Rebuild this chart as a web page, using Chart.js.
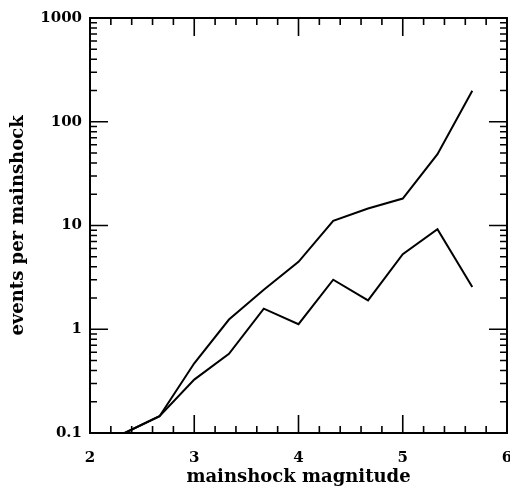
<!DOCTYPE html>
<html>
<head>
<meta charset="utf-8">
<script src="https://cdn.jsdelivr.net/npm/chart.js@4"></script>
<style>
  html, body { margin: 0; padding: 0; background: #fff; }
  #wrap { width: 510px; height: 487px; }
</style>
</head>
<body>
<div id="wrap"><canvas id="chart"></canvas></div>
<script>
// magnitude bins and events per mainshock
const magnitudes = [2.333, 2.667, 3.0, 3.333, 3.667, 4.0, 4.333, 4.667, 5.0, 5.333, 5.667];
const upperEvents = [0.1, 0.145, 0.47, 1.24, 2.4, 4.46, 11.1, 14.6, 18.2, 48.7, 199];
const lowerEvents = [0.1, 0.145, 0.327, 0.58, 1.58, 1.12, 3.0, 1.9, 5.3, 9.2, 2.56];
const xTicks = [2, 3, 4, 5, 6];
const yTicks = [0.1, 1, 10, 100, 1000];

const tickFont = {family: "'DejaVu Serif', serif", weight: 'bold', size: 15};
const titleFont = {family: "'DejaVu Serif', serif", weight: 'bold', size: 18};

// inward ticks on all four sides + frame, like the old plot
const frameTicks = {
  id: 'frameTicks',
  afterDraw(chart) {
    const {ctx, chartArea: a, scales} = chart;
    const xs = scales.x, ys = scales.y;
    ctx.save();
    ctx.strokeStyle = '#000';
    ctx.lineWidth = 2;
    ctx.strokeRect(a.left, a.top, a.right - a.left, a.bottom - a.top);
    ctx.lineWidth = 1.6;
    ctx.beginPath();
    for (let i = 0; i <= 20; i++) {
      const v = 2 + i * 0.2;
      const px = xs.getPixelForValue(v);
      const len = i % 5 === 0 ? 18 : 7;
      ctx.moveTo(px, a.bottom); ctx.lineTo(px, a.bottom - len);
      ctx.moveTo(px, a.top); ctx.lineTo(px, a.top + len);
    }
    for (let d = 0.1; d < 1000; d *= 10) {
      for (let m = 1; m <= 10; m++) {
        const py = ys.getPixelForValue(d * m);
        const len = (m === 1 || m === 10) ? 18 : 7;
        ctx.moveTo(a.left, py); ctx.lineTo(a.left + len, py);
        ctx.moveTo(a.right, py); ctx.lineTo(a.right - len, py);
      }
    }
    ctx.stroke();
    ctx.restore();
  }
};

new Chart(document.getElementById('chart'), {
  type: 'line',
  data: {
    datasets: [
      {
        label: 'upper',
        data: magnitudes.map((m, i) => ({x: m, y: upperEvents[i]})),
        borderColor: '#000', borderWidth: 2, pointRadius: 0, tension: 0, fill: false
      },
      {
        label: 'lower',
        data: magnitudes.map((m, i) => ({x: m, y: lowerEvents[i]})),
        borderColor: '#000', borderWidth: 2, pointRadius: 0, tension: 0, fill: false
      }
    ]
  },
  options: {
    responsive: true,
    maintainAspectRatio: false,
    animation: false,
    layout: {padding: {top: 18, right: 3, left: 0, bottom: 0}},
    plugins: {legend: {display: false}, tooltip: {enabled: false}},
    scales: {
      x: {
        type: 'linear', min: 2, max: 6,
        afterFit: s => { s.height = 54; s.paddingLeft = 0; s.paddingRight = 0; },
        afterBuildTicks: s => { s.ticks = xTicks.map(v => ({value: v})); },
        grid: {display: false, drawTicks: false},
        border: {display: false},
        ticks: {color: '#000', font: tickFont, padding: 16, maxRotation: 0},
        title: {display: true, text: 'mainshock magnitude', color: '#000', font: titleFont, padding: {top: 0, bottom: -1}}
      },
      y: {
        type: 'logarithmic', min: 0.1, max: 1000,
        afterFit: s => { s.width = 90; s.paddingTop = 0; s.paddingBottom = 0; },
        afterBuildTicks: s => { s.ticks = yTicks.map(v => ({value: v})); },
        grid: {display: false, drawTicks: false},
        border: {display: false},
        ticks: {color: '#000', font: tickFont, padding: 8, callback: v => String(v)},
        title: {display: true, text: 'events per mainshock', color: '#000', font: titleFont, padding: {top: 8, bottom: 0}}
      }
    }
  },
  plugins: [frameTicks]
});
</script>
</body>
</html>
